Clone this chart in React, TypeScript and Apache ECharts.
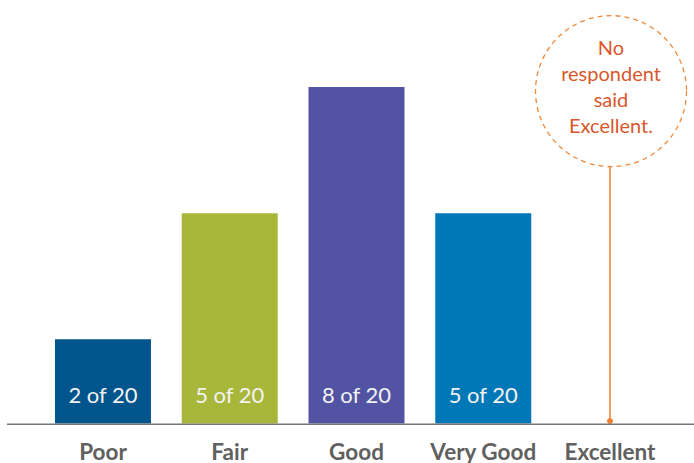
import React, { useEffect, useRef } from "react";
import * as echarts from "echarts";

const categories = ["Poor", "Fair", "Good", "Very Good", "Excellent"];
const counts = [2, 5, 8, 5, 0];
const total = 20;
const barColors = ["#00558C", "#A8B73A", "#5254A3", "#0077B6", "#F07F2A"];
const noteLines = ["No", "respondent", "said", "Excellent."];

export default function App() {
  const ref = useRef<HTMLDivElement>(null);
  useEffect(() => {
    const chart = echarts.init(ref.current!, null, { renderer: "svg" });
    const barData = counts.slice(0, 4).map((v, i) => ({
      value: v,
      itemStyle: { color: barColors[i] },
    }));
    chart.setOption({
      animation: false,
      grid: { left: 39.6, right: 20.6, top: 2.75, bottom: 39 },
      xAxis: {
        type: "category",
        data: categories,
        axisLine: { show: false },
        axisTick: { show: false },
        axisLabel: {
          color: "#606060",
          fontFamily: "Lato",
          fontWeight: "bold",
          fontSize: 22.5,
          lineHeight: 18,
          margin: 19,
          interval: 0,
        },
      },
      yAxis: {
        type: "value",
        min: 0,
        max: 10,
        show: false,
        splitLine: { show: false },
      },
      graphic: [
        {
          type: "line",
          shape: { x1: 7, y1: 424.3, x2: 694, y2: 424.3 },
          style: { stroke: "#777", lineWidth: 1.5 },
          z: 10,
        },
      ],
      series: [
        {
          type: "bar",
          data: barData,
          barWidth: 96,
          label: {
            show: true,
            position: "insideBottom",
            distance: 18,
            color: "#F2F2F2",
            fontFamily: "Lato",
            fontSize: 22,
            formatter: (p: any) => `${p.value} of ${total}`,
          },
        },
        {
          type: "custom",
          data: [[4, counts[4]]],
          clip: false,
          renderItem: (params: any, api: any) => {
            const base = api.coord([api.value(0), api.value(1)]);
            const cx = base[0] + 1;
            const cy = api.coord([api.value(0), 7.9])[1];
            const r = 75.5;
            const children: any[] = [
              {
                type: "line",
                shape: { x1: base[0], y1: base[1] - 2.5, x2: base[0], y2: cy + r },
                style: { stroke: "#F07F2A", lineWidth: 1.5 },
              },
              {
                type: "circle",
                shape: { cx: base[0], cy: base[1] - 2.5, r: 3 },
                style: { fill: "#F07F2A" },
              },
              {
                type: "circle",
                shape: { cx, cy, r },
                style: {
                  fill: "none",
                  stroke: "#F08A3A",
                  lineWidth: 1.3,
                  lineDash: [5, 4],
                },
              },
            ];
            const lineH = 26;
            noteLines.forEach((t, i) => {
              children.push({
                type: "text",
                style: {
                  text: t,
                  x: cx,
                  y: cy + (i - 1.5) * lineH - 5,
                  align: "center",
                  verticalAlign: "middle",
                  fill: "#D9572B",
                  font: "20px Lato",
                },
              });
            });
            return { type: "group", children };
          },
        },
      ],
    });
    return () => chart.dispose();
  }, []);
  return <div ref={ref} style={{ width: 694, height: 463, position: "absolute", left: 0, top: 0 }} />;
}
